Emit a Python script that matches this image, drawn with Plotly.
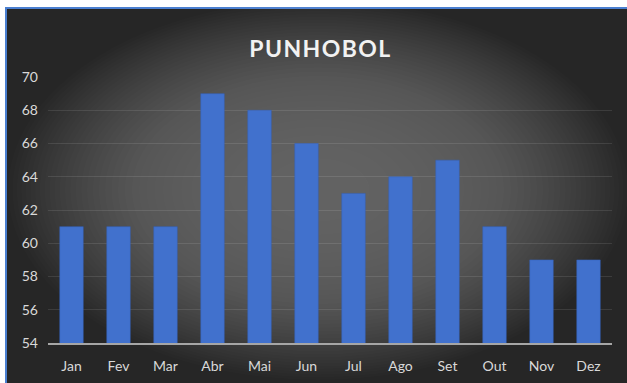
import plotly.graph_objects as go

months = ['Jan', 'Fev', 'Mar', 'Abr', 'Mai', 'Jun', 'Jul', 'Ago', 'Set', 'Out', 'Nov', 'Dez']
values = [61, 61, 61, 69, 68, 66, 63, 64, 65, 61, 59, 59]
y_ticks = [54, 56, 58, 60, 62, 64, 66, 68, 70]

W, H = 627, 383
L, R, T, B = 48, 15, 77, 40
pw, ph = W - L - R, H - T - B


def px_x(x):
    return (x - L) / pw


def px_y(y):
    return (H - B - y) / ph


shapes = []
# dark card with blue edge on the top/left
shapes.append(dict(type='rect', xref='paper', yref='paper', layer='below',
                   x0=px_x(5), x1=px_x(628), y0=px_y(384), y1=px_y(7),
                   fillcolor='#4a7fd0', line=dict(width=0)))
shapes.append(dict(type='rect', xref='paper', yref='paper', layer='below',
                   x0=px_x(7), x1=px_x(628), y0=px_y(384), y1=px_y(9),
                   fillcolor='#262626', line=dict(width=0)))
# soft radial glow, stacked ellipses kept inside the card
cx, cy = 318, 190
n = 36
for i in range(n):
    f = (1 - i / n) ** 0.5
    rx = 310 * f
    ry = 190 * f
    shapes.append(dict(type='circle', xref='paper', yref='paper', layer='below',
                       x0=px_x(cx - rx), x1=px_x(cx + rx),
                       y0=px_y(cy + ry), y1=px_y(cy - ry),
                       fillcolor='rgba(255,255,255,0.011)', line=dict(width=0)))

fig = go.Figure()
fig.add_trace(go.Bar(
    x=months, y=values, width=0.5,
    marker=dict(color='#4171cd', line=dict(color='#3461bb', width=0.5)),
))

sp = '\u200a'
fig.update_layout(
    width=W, height=H,
    margin=dict(l=L, r=R, t=T, b=B, autoexpand=False),
    paper_bgcolor='white', plot_bgcolor='rgba(0,0,0,0)',
    showlegend=False,
    shapes=shapes,
    font=dict(family='Lato', color='#d9d9d9', size=14),
    title=dict(text=sp.join('PUNHOBOL'), x=0.51, xanchor='center',
               y=1 - 49 / H, yanchor='middle',
               font=dict(family='Lato', size=23, color='#f2f2f2', weight='bold')),
)
fig.update_xaxes(showgrid=False, showline=True, linecolor='#a6a6a6', linewidth=1.5,
                 automargin=False, ticks='', ticklabelstandoff=9,
                 tickfont=dict(size=14, color='#d9d9d9'))
fig.update_yaxes(range=[54, 70], tickvals=y_ticks, showgrid=True, gridcolor='rgba(255,255,255,0.1)',
                 gridwidth=1, zeroline=False, ticks='', ticklabelstandoff=9, automargin=False,
                 tickfont=dict(size=14, color='#d9d9d9'))

fig.write_html('out.html', config={'displayModeBar': False},
               post_script="document.body.style.margin='0';")
